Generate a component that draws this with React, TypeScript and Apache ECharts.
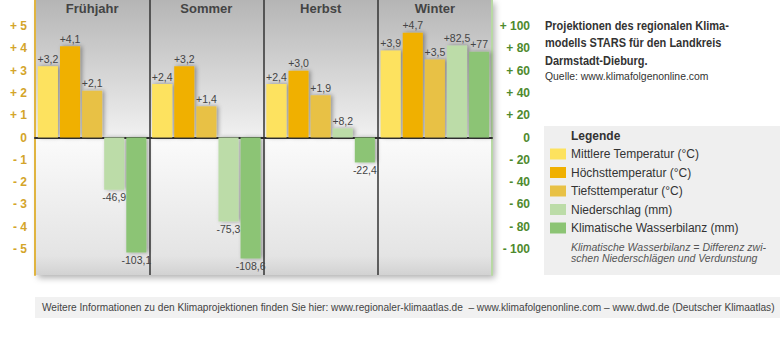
import React, { useEffect, useRef } from 'react';
import * as echarts from 'echarts';

const seasons = ['Frühjahr', 'Sommer', 'Herbst', 'Winter'];
const meanTemp = [3.2, 2.4, 2.4, 3.9];
const maxTemp = [4.1, 3.2, 3.0, 4.7];
const minTemp = [2.1, 1.4, 1.9, 3.5];
const precipitation = [-46.9, -75.3, 8.2, 82.5];
const waterBalance = [-103.1, -108.6, -22.4, 77];
const tempTicks = [5, 4, 3, 2, 1, 0, -1, -2, -3, -4, -5];
const mmTicks = [100, 80, 60, 40, 20, 0, -20, -40, -60, -80, -100];
const seriesNames = [
  'Mittlere Temperatur (°C)',
  'Höchsttemperatur (°C)',
  'Tiefsttemperatur (°C)',
  'Niederschlag (mm)',
  'Klimatische Wasserbilanz (mm)',
];
const seriesColors = ['#fde25e', '#f0b000', '#e8c145', '#bcdca8', '#8cc474'];

const FONT = '"Liberation Sans", Arial, sans-serif';

const signed = (v: number, fixed: boolean) => {
  const a = Math.abs(v);
  const s = (fixed ? a.toFixed(1) : String(a)).replace('.', ',');
  return (v < 0 ? '-' : '+') + s;
};
const axisFmt = (v: number) => (v === 0 ? '0' : (v > 0 ? '+ ' : '- ') + Math.abs(v));

const makeSeries = (name: string, values: number[], color: string, axis: number, fixed: boolean) => ({
  type: 'bar',
  name,
  yAxisIndex: axis,
  barGap: '10%',
  barCategoryGap: '5%',
  data: values.map((v) => ({ value: v, label: { position: v < 0 ? 'bottom' : 'top' } })),
  itemStyle: { color, shadowColor: 'rgba(0,0,0,0.35)', shadowBlur: 4, shadowOffsetX: 2 },
  label: {
    show: true,
    formatter: (p: any) => signed(p.value, fixed),
    fontSize: 10.5,
    color: '#444',
    distance: 2,
    fontFamily: FONT,
  },
});

export default function App() {
  const ref = useRef<HTMLDivElement>(null);
  useEffect(() => {
    document.body.style.margin = '0';
    const chart = echarts.init(ref.current!, undefined, { renderer: 'svg' });
    const titleStyle = (text: string) => ({
      text,
      font: `bold 12.5px ${FONT}`,
      fill: '#333',
      verticalAlign: 'middle',
    });
    const option: any = {
      animation: false,
      textStyle: { fontFamily: FONT },
      grid: {
        left: 35,
        right: 288,
        top: 0,
        bottom: 75,
        show: true,
        borderWidth: 0,
        backgroundColor: new echarts.graphic.LinearGradient(0, 0, 0, 1, [
          { offset: 0, color: '#b5b5b5' },
          { offset: 0.5, color: '#f1f1f1' },
          { offset: 0.5, color: '#fbfbfb' },
          { offset: 0.93, color: '#e4e4e4' },
          { offset: 1, color: '#d2d2d2' },
        ]),
        shadowBlur: 6,
        shadowColor: 'rgba(0,0,0,0.3)',
        shadowOffsetX: 3,
        shadowOffsetY: 3,
      },
      legend: {
        orient: 'vertical',
        left: 550,
        top: 148,
        padding: 0,
        itemWidth: 16,
        itemHeight: 11,
        itemGap: 6.5,
        icon: 'rect',
        data: seriesNames,
        itemStyle: { shadowBlur: 0, shadowColor: 'transparent', shadowOffsetX: 0 },
        textStyle: { fontSize: 12, color: '#333', lineHeight: 12, fontFamily: FONT, padding: [0, 0, 0, 0] },
      },
      xAxis: [
        {
          type: 'category',
          data: seasons,
          axisLine: { onZero: true, lineStyle: { color: '#333', width: 2 } },
          axisTick: { show: false },
          axisLabel: { show: false },
          splitLine: { show: true, lineStyle: { color: '#333', width: 1.5 } },
        },
        {
          type: 'category',
          data: seasons,
          position: 'top',
          axisLine: { show: false, onZero: false },
          axisTick: { show: false },
          axisLabel: { inside: true, margin: 1.5, fontSize: 13, fontWeight: 'bold', color: '#444', fontFamily: FONT },
          splitLine: { show: false },
        },
      ],
      yAxis: [
        {
          type: 'value',
          position: 'left',
          min: -6.17,
          max: 6.17,
          axisLine: { show: true, onZero: false, lineStyle: { color: '#e0b440', width: 2 } },
          axisTick: { show: false },
          splitLine: { show: false },
          axisLabel: {
            customValues: tempTicks,
            formatter: axisFmt,
            margin: 8,
            fontSize: 12,
            fontWeight: 'bold',
            color: '#d4a52a',
            fontFamily: FONT,
          },
        },
        {
          type: 'value',
          position: 'right',
          min: -123.4,
          max: 123.4,
          axisLine: { show: true, onZero: false, lineStyle: { color: '#b8d9a4', width: 2 } },
          axisTick: { show: false },
          splitLine: { show: false },
          axisLabel: {
            customValues: mmTicks,
            formatter: axisFmt,
            align: 'right',
            margin: 38,
            fontSize: 12,
            fontWeight: 'bold',
            color: '#4e8a2e',
            fontFamily: FONT,
          },
        },
      ],
      series: [
        makeSeries(seriesNames[0], meanTemp, seriesColors[0], 0, true),
        makeSeries(seriesNames[1], maxTemp, seriesColors[1], 0, true),
        makeSeries(seriesNames[2], minTemp, seriesColors[2], 0, true),
        makeSeries(seriesNames[3], precipitation, seriesColors[3], 1, false),
        makeSeries(seriesNames[4], waterBalance, seriesColors[4], 1, false),
      ],
      graphic: [
        { type: 'rect', z: -10, shape: { x: 544, y: 126, width: 236, height: 149 }, style: { fill: '#efefef' } },
        { type: 'rect', z: -10, shape: { x: 35, y: 297, width: 745, height: 21 }, style: { fill: '#f1f1f1' } },
        { type: 'text', x: 545, y: 25, scaleX: 0.88, style: titleStyle('Projektionen des regionalen Klima-') },
        { type: 'text', x: 545, y: 42.5, scaleX: 0.88, style: titleStyle('modells STARS für den Landkreis') },
        { type: 'text', x: 545, y: 60, scaleX: 0.88, style: titleStyle('Darmstadt-Dieburg.') },
        {
          type: 'text', x: 545, y: 76.5,
          style: { text: 'Quelle: www.klimafolgenonline.com', font: `10.4px ${FONT}`, fill: '#333', verticalAlign: 'middle' },
        },
        {
          type: 'text', x: 571, y: 136,
          style: { text: 'Legende', font: `bold 12px ${FONT}`, fill: '#333', verticalAlign: 'middle' },
        },
        {
          type: 'text', x: 571, y: 246.5,
          style: { text: 'Klimatische Wasserbilanz = Differenz zwi-', font: `italic 10.5px ${FONT}`, fill: '#555', verticalAlign: 'middle' },
        },
        {
          type: 'text', x: 571, y: 257.5,
          style: { text: 'schen Niederschlägen und Verdunstung', font: `italic 10.5px ${FONT}`, fill: '#555', verticalAlign: 'middle' },
        },
        {
          type: 'text', x: 42, y: 307.5,
          style: {
            text: 'Weitere Informationen zu den Klimaprojektionen finden Sie hier: www.regionaler-klimaatlas.de  – www.klimafolgenonline.com – www.dwd.de (Deutscher Klimaatlas)',
            font: `10.15px ${FONT}`, fill: '#444', verticalAlign: 'middle',
          },
        },
      ],
    };
    chart.setOption(option);
    return () => chart.dispose();
  }, []);
  return <div ref={ref} style={{ width: 780, height: 350 }} />;
}
